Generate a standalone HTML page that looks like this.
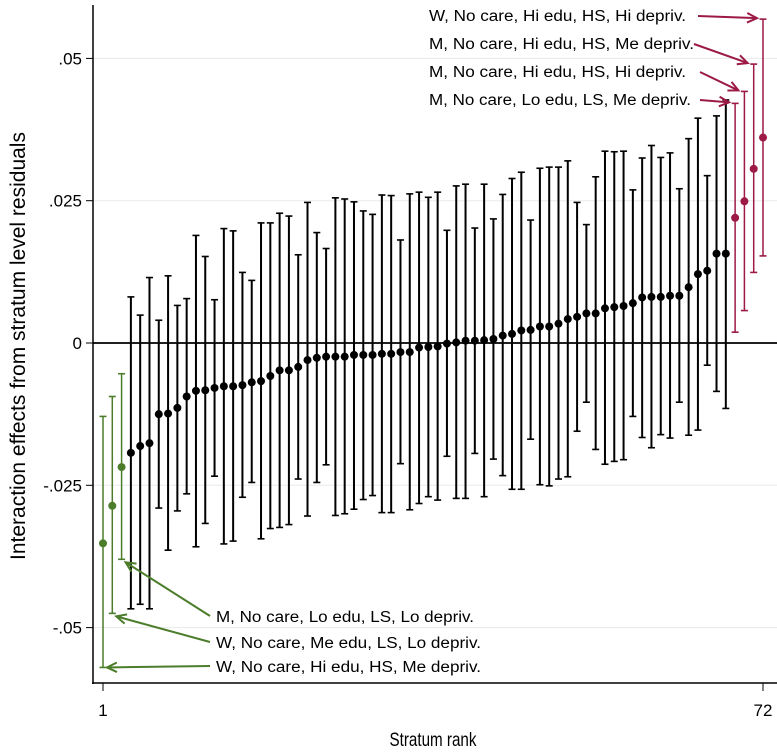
<!DOCTYPE html>
<html><head><meta charset="utf-8">
<style>
html,body{margin:0;padding:0;background:#fff;}
svg{display:block;font-family:"Liberation Sans",sans-serif;}
</style></head>
<body>
<svg id="chart" width="777" height="754" viewBox="0 0 777 754" xmlns="http://www.w3.org/2000/svg">
<g id="grid"></g>
<g id="axes"></g>
<g id="marks"></g>
<g id="notes"></g>
<text transform="translate(25,346) rotate(-90)" text-anchor="middle" font-size="21" fill="#000">Interaction effects from stratum level residuals</text>
<text x="433" y="746" text-anchor="middle" font-size="19" fill="#000" transform="translate(433,0) scale(0.8,1) translate(-433,0)">Stratum rank</text>
</svg>
<script>
// values in units of 0.001
const est = [-35.2,-28.6,-21.8,-19.3,-18.1,-17.6,-12.5,-12.4,-11.4,-9.4,-8.4,-8.3,-7.9,-7.6,-7.6,-7.4,-6.9,-6.7,-5.8,-4.8,-4.8,-4.2,-3.0,-2.6,-2.4,-2.4,
-2.4,-2.1,-2.1,-2.1,-1.9,-1.9,-1.6,-1.6,-0.8,-0.7,-0.6,-0.1,0.1,0.4,0.4,0.5,0.7,1.3,1.6,2.2,2.3,2.9,
2.9,3.4,4.2,4.6,5.2,5.2,6.1,6.3,6.5,7.0,8.0,8.1,8.1,8.3,8.3,9.8,12.1,12.7,15.7,15.7,
22.0,24.9,30.6,36.1];
const hi = [-12.9,-9.4,-5.4,8.1,4.9,11.5,4.0,11.8,6.6,7.8,18.9,15.2,7.6,20.1,19.7,12.4,11.0,21.1,21.1,22.8,22.3,15.5,24.7,19.4,16.6,25.5,
25.3,24.8,23.2,22.6,26.0,25.9,18.1,26.2,26.5,25.6,26.5,19.8,27.6,27.9,20.2,27.9,21.8,26.1,28.9,30.0,21.6,30.7,
30.9,30.9,32.0,24.7,20.8,29.2,33.7,33.6,33.7,26.9,32.5,34.7,32.6,33.4,27.1,35.9,39.5,29.4,39.9,42.7,
42.1,44.2,49.0,56.9];
const lo = [-57.0,-47.5,-38.0,-46.7,-45.9,-46.7,-29.0,-36.4,-29.5,-26.5,-35.8,-31.7,-23.4,-35.3,-34.8,-27.1,-24.5,-34.4,-32.6,-32.4,-31.9,-23.9,-30.4,-24.5,-21.4,-30.3,
-30.0,-29.2,-27.5,-26.8,-29.8,-29.8,-21.2,-29.3,-28.2,-27.0,-27.6,-19.9,-27.3,-27.3,-19.4,-27.0,-20.4,-23.3,-25.7,-25.7,-16.9,-24.9,
-25.1,-23.9,-23.5,-15.5,-10.4,-18.7,-21.3,-20.8,-20.5,-12.9,-16.6,-18.4,-16.1,-16.7,-10.4,-16.2,-15.3,-3.9,-8.5,-11.5,
1.9,5.7,12.4,15.3];
const yTicks = [50,25,0,-25,-50];
const yTickLabels = [".05",".025","0","-.025","-.05"];
const xTicks = [1,72];
const lowLabels = ["M, No care, Lo edu, LS, Lo depriv.","W, No care, Me edu, LS, Lo depriv.","W, No care, Hi edu, HS, Me depriv."];
const highLabels = ["W, No care, Hi edu, HS, Hi depriv.","M, No care, Hi edu, HS, Me depriv.","M, No care, Hi edu, HS, Hi depriv.","M, No care, Lo edu, LS, Me depriv."];

const NS="http://www.w3.org/2000/svg";
const X = r => 103 + (r-1)*(660/71);
const Y = v => 343 - v*5.692;
function mk(parent, tag, attrs){const e=document.createElementNS(NS,tag);for(const k in attrs)e.setAttribute(k,attrs[k]);parent.appendChild(e);return e;}
const grid=document.getElementById('grid'),axes=document.getElementById('axes'),marks=document.getElementById('marks'),notes=document.getElementById('notes');
const GREEN="#4b7d2a", RED="#9c1a45";

yTicks.forEach((t,i)=>{
  if(t!==0){const g=mk(grid,'line',{x1:93,x2:777,y1:Y(t),y2:Y(t),stroke:'#eaeaea','stroke-width':1});
  
  }
  const tk=mk(axes,'line',{x1:86,x2:93,y1:Y(t),y2:Y(t),stroke:'#000','stroke-width':1});
  
  
  const lb=mk(axes,'text',{x:82,y:Y(t)+6,'text-anchor':'end','font-size':17,fill:'#000'});
  lb.textContent=yTickLabels[i];
  
  
});
const zl=mk(axes,'line',{x1:93,x2:777,y1:Y(0),y2:Y(0),stroke:'#000','stroke-width':1.8});


const ya=mk(axes,'line',{x1:93,x2:93,y1:5,y2:684,stroke:'#000','stroke-width':1.5});


const xa=mk(axes,'line',{x1:92,x2:777,y1:683,y2:683,stroke:'#000','stroke-width':1.5});


xTicks.forEach(t=>{
  const tk=mk(axes,'line',{x1:X(t),x2:X(t),y1:683,y2:691,stroke:'#000','stroke-width':1});
  
  
  const lb=mk(axes,'text',{x:X(t),y:716,'text-anchor':'middle','font-size':17,fill:'#000'});
  lb.textContent=String(t);
  
  
});

est.forEach((v,i)=>{
  const r=i+1, x=X(r);
  const c = r<=3?GREEN:(r>=69?RED:'#000');
  const w = r<=3||r>=69?1.5:2;
  const g=mk(marks,'g',{});
  
  
  mk(g,'line',{x1:x,x2:x,y1:Y(hi[i]),y2:Y(lo[i]),stroke:c,'stroke-width':w});
  mk(g,'line',{x1:x-3.5,x2:x+3.5,y1:Y(hi[i]),y2:Y(hi[i]),stroke:c,'stroke-width':1.6});
  mk(g,'line',{x1:x-3.5,x2:x+3.5,y1:Y(lo[i]),y2:Y(lo[i]),stroke:c,'stroke-width':1.6});
  const d=mk(g,'circle',{cx:x,cy:Y(v),r:4,fill:c});
  
  
});

function arrow(x1,y1,x2,y2,c){
  mk(notes,'line',{x1,y1,x2,y2,stroke:c,'stroke-width':2});
  const a=Math.atan2(y2-y1,x2-x1),L=11,s=0.45;
  mk(notes,'polyline',{points:`${x2-L*Math.cos(a-s)},${y2-L*Math.sin(a-s)} ${x2},${y2} ${x2-L*Math.cos(a+s)},${y2-L*Math.sin(a+s)}`,fill:'none',stroke:c,'stroke-width':2});
}
const lowTextY=[622,648,672];
const lowTargets=[[3,-38.0],[2,-47.5],[1,-57.0]];
lowLabels.forEach((s,i)=>{
  const t=mk(notes,'text',{x:216,y:lowTextY[i],'font-size':15.5,fill:'#000',textLength:[258,265,265][i],lengthAdjust:'spacingAndGlyphs'});
  t.textContent=s;
  
  
  const tg=lowTargets[i];
  arrow(210,lowTextY[i]-6,X(tg[0])+4,Y(tg[1])+(i===2?0:3),GREEN);
});
const hiTextY=[21,49,77,105];
const hiTargets=[[72,56.9],[71,49.0],[70,44.2],[69,42.1]];
highLabels.forEach((s,i)=>{
  const t=mk(notes,'text',{x:429,y:hiTextY[i],'font-size':15.5,fill:'#000',textLength:[257,265,257,262][i],lengthAdjust:'spacingAndGlyphs'});
  t.textContent=s;
  
  
  const tg=hiTargets[i];
  arrow(i===0?698:i===1?694:700,hiTextY[i]-5,X(tg[0])-6,Y(tg[1])-1,RED);
});
</script>
</body></html>
